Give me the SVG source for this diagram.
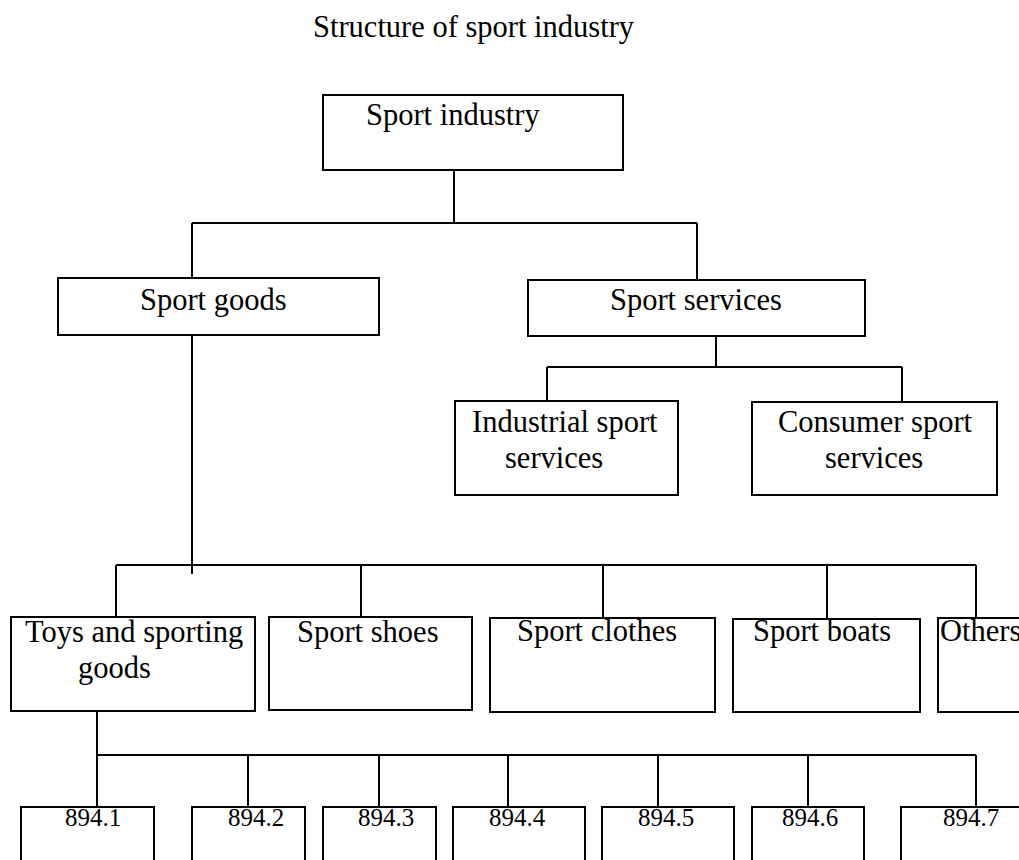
<svg xmlns="http://www.w3.org/2000/svg" width="1019" height="860" viewBox="0 0 1019 860">
<style>
.box{fill:#fff;stroke:#000;stroke-width:2}
.lbl{font-family:"Liberation Serif","Times New Roman",serif;font-size:30.5px;fill:#000}
.num{font-family:"Liberation Serif","Times New Roman",serif;font-size:25px;fill:#000}
.ln{fill:none;stroke:#000;stroke-width:2}
</style>
<rect width="1019" height="860" fill="#fff"/>
<text class="lbl" x="313" y="37">Structure of sport industry</text>
<g id="connectors">
<path class="ln" d="M454 170V224M192 223H697M192 223V278M697 223V280"/>
<path class="ln" d="M716 336V367M547 367H902M547 367V401M902 367V402"/>
<path class="ln" d="M192 335V574M116 565H976M116 565V617M361 565V617M603 565V618M827 565V619M976 565V618"/>
<path class="ln" d="M97 702V755M97 755H976M97 755V807M248 755V807M379 755V807M508 755V807M658 755V807M808 755V807M976 755V807"/>
</g>
<g id="n-sport-industry"><rect class="box" x="323" y="95" width="300" height="75"/><text class="lbl" x="366" y="125">Sport industry</text></g>
<g id="n-sport-goods"><rect class="box" x="58" y="278" width="321" height="57"/><text class="lbl" x="140" y="310">Sport goods</text></g>
<g id="n-sport-services"><rect class="box" x="528" y="280" width="337" height="56"/><text class="lbl" x="610" y="310">Sport services</text></g>
<g id="n-industrial"><rect class="box" x="455" y="401" width="223" height="94"/><text class="lbl" x="472" y="432">Industrial sport</text><text class="lbl" x="505" y="468">services</text></g>
<g id="n-consumer"><rect class="box" x="752" y="402" width="245" height="93"/><text class="lbl" x="778" y="432">Consumer sport</text><text class="lbl" x="825" y="468">services</text></g>
<g id="n-toys"><rect class="box" x="11" y="617" width="244" height="94"/><text class="lbl" x="25" y="642">Toys and sporting</text><text class="lbl" x="78" y="678">goods</text></g>
<g id="n-shoes"><rect class="box" x="269" y="617" width="203" height="93"/><text class="lbl" x="297" y="642">Sport shoes</text></g>
<g id="n-clothes"><rect class="box" x="490" y="618" width="225" height="94"/><text class="lbl" x="517" y="641">Sport clothes</text></g>
<g id="n-boats"><rect class="box" x="733" y="619" width="187" height="93"/><text class="lbl" x="753" y="641">Sport boats</text></g>
<g id="n-others"><rect class="box" x="938" y="618" width="100" height="94"/><text class="lbl" x="940" y="641">Others</text></g>
<g id="n-894-1"><rect class="box" x="21" y="807" width="133" height="70"/><text class="num" x="65" y="826">894.1</text></g>
<g id="n-894-2"><rect class="box" x="192" y="807" width="113" height="70"/><text class="num" x="228" y="826">894.2</text></g>
<g id="n-894-3"><rect class="box" x="323" y="807" width="113" height="70"/><text class="num" x="358" y="826">894.3</text></g>
<g id="n-894-4"><rect class="box" x="453" y="807" width="132" height="70"/><text class="num" x="489" y="826">894.4</text></g>
<g id="n-894-5"><rect class="box" x="602" y="807" width="132" height="70"/><text class="num" x="638" y="826">894.5</text></g>
<g id="n-894-6"><rect class="box" x="752" y="807" width="112" height="70"/><text class="num" x="782" y="826">894.6</text></g>
<g id="n-894-7"><rect class="box" x="901" y="807" width="140" height="70"/><text class="num" x="943" y="826">894.7</text></g>
</svg>
